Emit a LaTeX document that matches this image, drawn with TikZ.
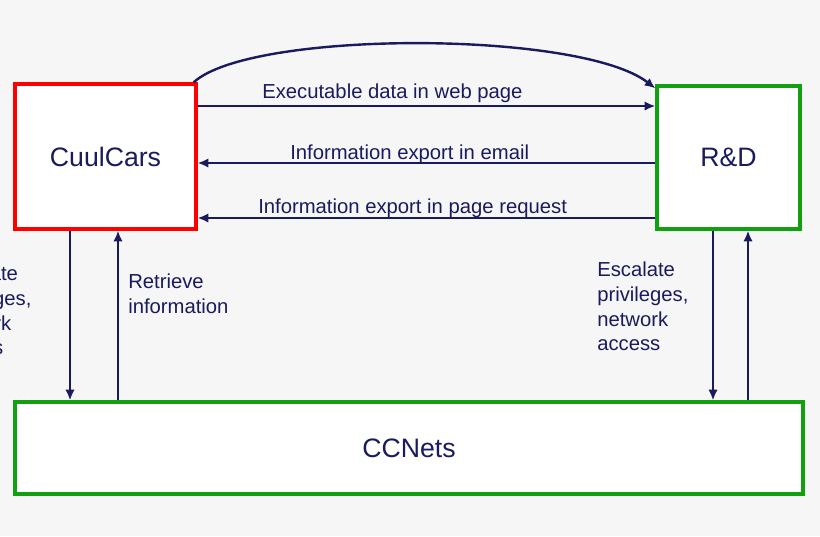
\documentclass[tikz,border=0pt]{standalone}
\usepackage{fontspec}
\setmainfont{Liberation Sans}
\begin{document}
\begin{tikzpicture}[x=0.75pt,y=-0.75pt,
  arr/.style={draw=navy,line width=1.8pt,-{Latex[length=8pt,width=7pt]}},
  lbl/.style={text=navy,font=\fontsize{15.2}{18.5}\selectfont,inner sep=0pt},
  box/.style={line width=2.4pt,fill=white}]
\usetikzlibrary{arrows.meta}
\definecolor{navy}{HTML}{1A1A5E}
\definecolor{bg}{HTML}{F6F6F6}
\definecolor{gr}{HTML}{10A010}
\fill[bg] (0,0) rectangle (820,536);
\useasboundingbox (0,0) rectangle (820,536);
\clip (0,0) rectangle (820,536);
\node[box,draw=red,minimum width=181*0.75pt,minimum height=145*0.75pt,font=\fontsize{20}{24}\selectfont,text=navy] (cc) at (105.5,156.5) {CuulCars};
\node[box,draw=gr,minimum width=143*0.75pt,minimum height=143*0.75pt,font=\fontsize{20}{24}\selectfont,text=navy] (rd) at (728.5,157.5) {R\&D};
\node[box,draw=gr,minimum width=788*0.75pt,minimum height=92*0.75pt,font=\fontsize{20}{24}\selectfont,text=navy] (net) at (409,448) {CCNets};
\draw[arr] ([xshift=-3pt]cc.north east) .. controls (250,30) and (580,30) .. ([yshift=-3pt]rd.north west);
\draw[arr] (cc.east|-0,106) -- (rd.west|-0,106);
\draw[arr] (rd.west|-0,163) -- (cc.east|-0,163);
\draw[arr] (rd.west|-0,218) -- (cc.east|-0,218);
\draw[arr] (cc.south-|70,0) -- (net.north-|70,0);
\draw[arr] (net.north-|118,0) -- (cc.south-|118,0);
\draw[arr] (rd.south-|713,0) -- (net.north-|713,0);
\draw[arr] (net.north-|748,0) -- (rd.south-|748,0);
\node[lbl,anchor=base west] (t1) at (262,98) {Executable data in web page};
\node[lbl,anchor=base west] (t2) at (290,159) {Information export in email};
\node[lbl,anchor=base west] (t3) at (258,213) {Information export in page request};
\node[lbl,anchor=north west,align=left] (t4) at (128,274) {Retrieve\\information};
\node[lbl,anchor=north west,align=left] (t5) at (597,262) {Escalate\\privileges,\\network\\access};
\node[lbl,anchor=north west,align=left] (t6) at (-60,266) {Escalate\\privileges,\\network\\access};
\end{tikzpicture}
\end{document}
